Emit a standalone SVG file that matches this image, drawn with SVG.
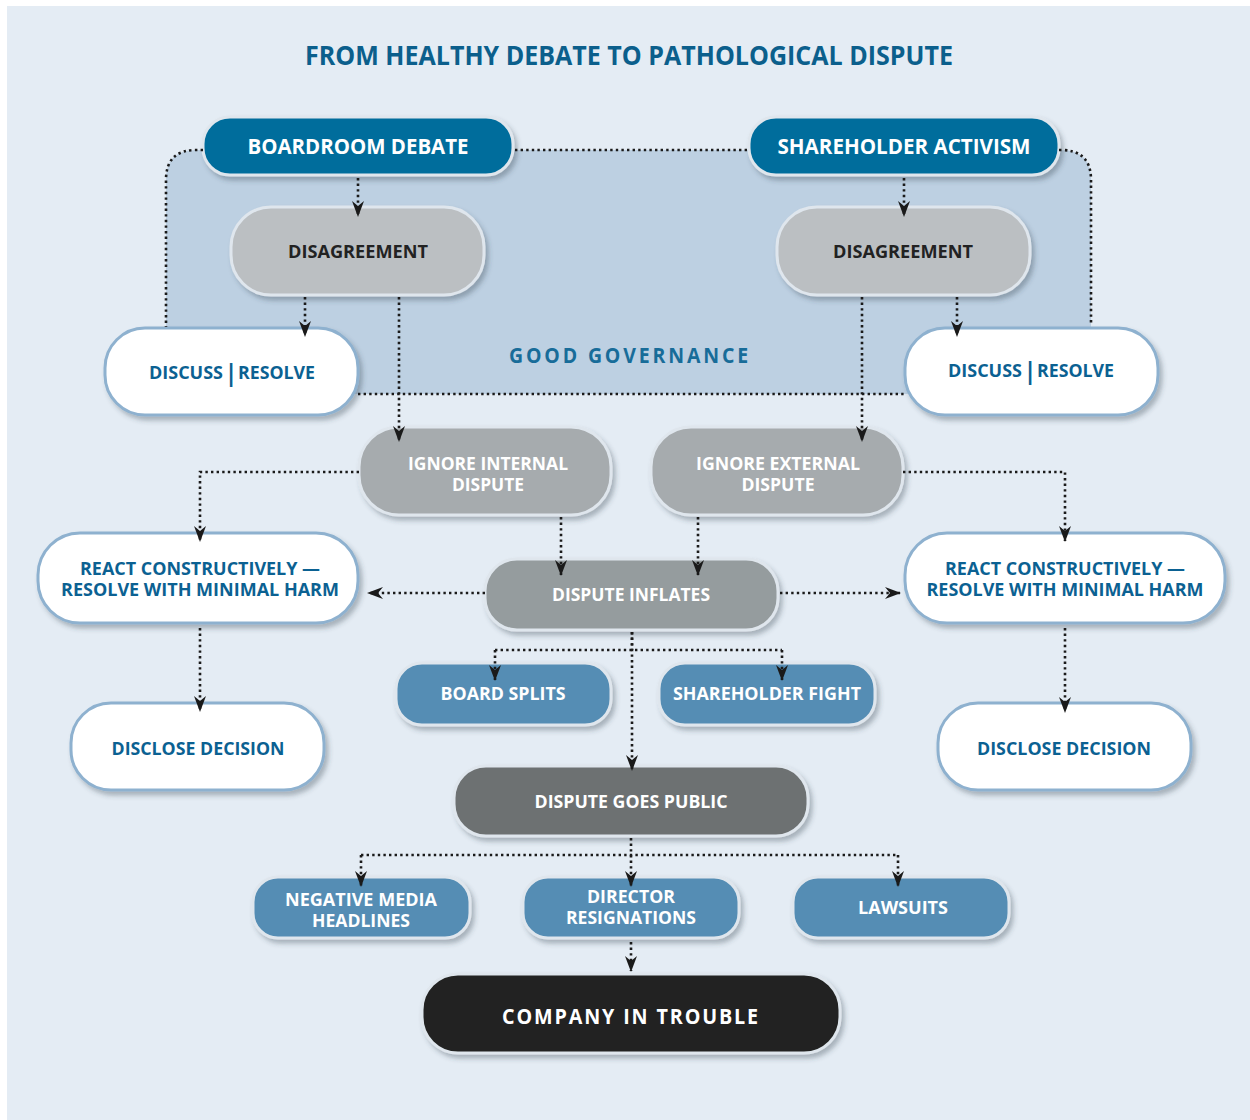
<svg xmlns="http://www.w3.org/2000/svg" width="1250" height="1120" viewBox="0 0 1250 1120">
<style>
text{font-family:"Open Sans","Noto Sans","Liberation Sans",sans-serif;font-weight:700;text-anchor:middle}
.w{fill:#ffffff}
.b{fill:#0b6192}
.d{fill:#222222}
.n{stroke:#dfe6ed;stroke-width:3;filter:url(#sh)}
.wn{fill:#ffffff;stroke:#8eb1cf;stroke-width:3;filter:url(#sh)}
.c{fill:none;stroke:#1a1a1a;stroke-width:2.6;stroke-dasharray:2.4 3.2}
.ca{fill:none;stroke:#1a1a1a;stroke-width:2.6;stroke-dasharray:2.4 3.2;marker-end:url(#ah)}
</style>
<defs>
<filter id="sh" x="-10%" y="-20%" width="125%" height="150%">
<feDropShadow dx="3" dy="4" stdDeviation="2.5" flood-color="#30404f" flood-opacity="0.35"/>
</filter>
<marker id="ah" markerUnits="userSpaceOnUse" viewBox="0 0 16 12" markerWidth="16" markerHeight="12" refX="15" refY="6" orient="auto">
<path d="M0 0 L16 6 L0 12 L5 6 Z" fill="#1a1a1a"/>
</marker>
</defs>
<rect x="0" y="0" width="1250" height="1120" fill="#ffffff"/>
<rect x="7" y="6" width="1243" height="1114" fill="#e4ecf4"/>
<text x="629" y="64.5" font-size="26" fill="#0b5f8c" textLength="648" lengthAdjust="spacingAndGlyphs">FROM HEALTHY DEBATE TO PATHOLOGICAL DISPUTE</text>

<g id="good-governance">
<path d="M166 180 Q166 150 196 150 H1061 Q1091 150 1091 180 V394 H166 Z" fill="#bdd0e2"/>
<text x="630" y="362.5" font-size="20.5" fill="#186c99" letter-spacing="3" textLength="242" lengthAdjust="spacingAndGlyphs">GOOD GOVERNANCE</text>
</g>

<g id="boardroom-debate">
<rect class="n" x="203" y="117" width="310" height="58" rx="27" fill="#006d9c"/>
<text class="w" x="358" y="154" font-size="22" textLength="221" lengthAdjust="spacingAndGlyphs">BOARDROOM DEBATE</text>
</g>
<g id="shareholder-activism">
<rect class="n" x="749" y="117" width="310" height="58" rx="27" fill="#006d9c"/>
<text class="w" x="904" y="154" font-size="22" textLength="253" lengthAdjust="spacingAndGlyphs">SHAREHOLDER ACTIVISM</text>
</g>
<g id="disagreement-left">
<rect class="n" x="231" y="207" width="253" height="88" rx="40" fill="#bbbfc2"/>
<text class="d" x="358" y="258" font-size="18.5" textLength="140" lengthAdjust="spacingAndGlyphs">DISAGREEMENT</text>
</g>
<g id="disagreement-right">
<rect class="n" x="777" y="207" width="253" height="88" rx="40" fill="#bbbfc2"/>
<text class="d" x="903" y="258" font-size="18.5" textLength="140" lengthAdjust="spacingAndGlyphs">DISAGREEMENT</text>
</g>
<g id="discuss-resolve-left">
<rect class="wn" x="105" y="328" width="253" height="87" rx="40"/>
<text class="b" x="186" y="379" font-size="18" textLength="74" lengthAdjust="spacingAndGlyphs">DISCUSS</text>
<text class="b" x="231" y="381" font-size="23" font-weight="400">|</text>
<text class="b" x="276.5" y="379" font-size="18" textLength="77" lengthAdjust="spacingAndGlyphs">RESOLVE</text>
</g>
<g id="discuss-resolve-right">
<rect class="wn" x="905" y="328" width="253" height="87" rx="40"/>
<text class="b" x="985" y="377" font-size="18" textLength="74" lengthAdjust="spacingAndGlyphs">DISCUSS</text>
<text class="b" x="1030" y="379" font-size="23" font-weight="400">|</text>
<text class="b" x="1075.5" y="377" font-size="18" textLength="77" lengthAdjust="spacingAndGlyphs">RESOLVE</text>
</g>
<g id="ignore-internal">
<rect class="n" x="359" y="427" width="252" height="88" rx="40" fill="#a6abae"/>
<text class="w" font-size="17"><tspan x="488" y="469.5" textLength="160" lengthAdjust="spacingAndGlyphs">IGNORE INTERNAL</tspan><tspan x="488" y="490.5" textLength="72" lengthAdjust="spacingAndGlyphs">DISPUTE</tspan></text>
</g>
<g id="ignore-external">
<rect class="n" x="651" y="427" width="252" height="88" rx="40" fill="#a6abae"/>
<text class="w" font-size="17"><tspan x="778" y="469.5" textLength="164" lengthAdjust="spacingAndGlyphs">IGNORE EXTERNAL</tspan><tspan x="778" y="490.5" textLength="73" lengthAdjust="spacingAndGlyphs">DISPUTE</tspan></text>
</g>
<g id="react-left">
<rect class="wn" x="38" y="533" width="320" height="90" rx="42"/>
<text class="b" font-size="17.5"><tspan x="200" y="574.5" textLength="240" lengthAdjust="spacingAndGlyphs">REACT CONSTRUCTIVELY —</tspan><tspan x="200" y="595.5" textLength="278" lengthAdjust="spacingAndGlyphs">RESOLVE WITH MINIMAL HARM</tspan></text>
</g>
<g id="react-right">
<rect class="wn" x="905" y="533" width="320" height="90" rx="42"/>
<text class="b" font-size="17.5"><tspan x="1065" y="574.5" textLength="240" lengthAdjust="spacingAndGlyphs">REACT CONSTRUCTIVELY —</tspan><tspan x="1065" y="595.5" textLength="277" lengthAdjust="spacingAndGlyphs">RESOLVE WITH MINIMAL HARM</tspan></text>
</g>
<g id="dispute-inflates">
<rect class="n" x="485" y="559" width="293" height="71" rx="32" fill="#959c9e"/>
<text class="w" x="631" y="601" font-size="18" textLength="158" lengthAdjust="spacingAndGlyphs">DISPUTE INFLATES</text>
</g>
<g id="board-splits">
<rect class="n" x="396" y="663" width="215" height="62" rx="26" fill="#548db4"/>
<text class="w" x="503" y="699.5" font-size="18" textLength="125" lengthAdjust="spacingAndGlyphs">BOARD SPLITS</text>
</g>
<g id="shareholder-fight">
<rect class="n" x="659" y="663" width="216" height="62" rx="26" fill="#548db4"/>
<text class="w" x="767" y="699.5" font-size="18" textLength="188" lengthAdjust="spacingAndGlyphs">SHAREHOLDER FIGHT</text>
</g>
<g id="disclose-left">
<rect class="wn" x="71" y="703" width="253" height="87" rx="40"/>
<text class="b" x="198" y="754.5" font-size="18" textLength="173" lengthAdjust="spacingAndGlyphs">DISCLOSE DECISION</text>
</g>
<g id="disclose-right">
<rect class="wn" x="938" y="703" width="253" height="87" rx="40"/>
<text class="b" x="1064" y="754.5" font-size="18" textLength="174" lengthAdjust="spacingAndGlyphs">DISCLOSE DECISION</text>
</g>
<g id="dispute-goes-public">
<rect class="n" x="454" y="766" width="354" height="70" rx="32" fill="#6d7172"/>
<text class="w" x="631" y="808" font-size="18" textLength="193" lengthAdjust="spacingAndGlyphs">DISPUTE GOES PUBLIC</text>
</g>
<g id="negative-media">
<rect class="n" x="253" y="877" width="217" height="61" rx="25" fill="#548db4"/>
<text class="w" font-size="17.5"><tspan x="361" y="905.5" textLength="152" lengthAdjust="spacingAndGlyphs">NEGATIVE MEDIA</tspan><tspan x="361" y="926.5" textLength="98" lengthAdjust="spacingAndGlyphs">HEADLINES</tspan></text>
</g>
<g id="director-resignations">
<rect class="n" x="523" y="877" width="216" height="61" rx="25" fill="#548db4"/>
<text class="w" font-size="17.5"><tspan x="631" y="902.5" textLength="88" lengthAdjust="spacingAndGlyphs">DIRECTOR</tspan><tspan x="631" y="923.5" textLength="130" lengthAdjust="spacingAndGlyphs">RESIGNATIONS</tspan></text>
</g>
<g id="lawsuits">
<rect class="n" x="793" y="877" width="216" height="61" rx="25" fill="#548db4"/>
<text class="w" x="903" y="913.5" font-size="18" textLength="90" lengthAdjust="spacingAndGlyphs">LAWSUITS</text>
</g>
<g id="company-in-trouble">
<rect class="n" x="422" y="974" width="418" height="79" rx="36" fill="#212320"/>
<text class="w" x="631" y="1023.5" font-size="21" letter-spacing="2" textLength="258" lengthAdjust="spacingAndGlyphs">COMPANY IN TROUBLE</text>
</g>

<g id="connectors">
<path class="c" d="M203 150 H196 Q166 150 166 180 V327"/>
<path class="c" d="M515 150 H748"/>
<path class="c" d="M1059 150 H1061 Q1091 150 1091 180 V325"/>
<path class="c" d="M358 394 H905"/>
<path class="ca" d="M358 178 V216"/>
<path class="ca" d="M904 178 V216"/>
<path class="ca" d="M305 297 V336"/>
<path class="ca" d="M399 297 V441"/>
<path class="ca" d="M957 297 V336"/>
<path class="ca" d="M862 297 V441"/>
<path class="ca" d="M359 472 H200 V541"/>
<path class="ca" d="M903 472 H1065 V541"/>
<path class="ca" d="M561 517 V575"/>
<path class="ca" d="M698 517 V575"/>
<path class="ca" d="M485 593 H368"/>
<path class="ca" d="M780 593 H900"/>
<path class="c" d="M632 632 V650 M495 650 H782"/>
<path class="ca" d="M495 650 V680"/>
<path class="ca" d="M782 650 V680"/>
<path class="ca" d="M632 632 V770"/>
<path class="ca" d="M200 628 V711"/>
<path class="ca" d="M1065 628 V712"/>
<path class="c" d="M631 838 V855 M361 855 H898"/>
<path class="ca" d="M361 855 V886"/>
<path class="ca" d="M631 855 V886"/>
<path class="ca" d="M898 855 V886"/>
<path class="ca" d="M631 942 V971"/>
</g>
</svg>
